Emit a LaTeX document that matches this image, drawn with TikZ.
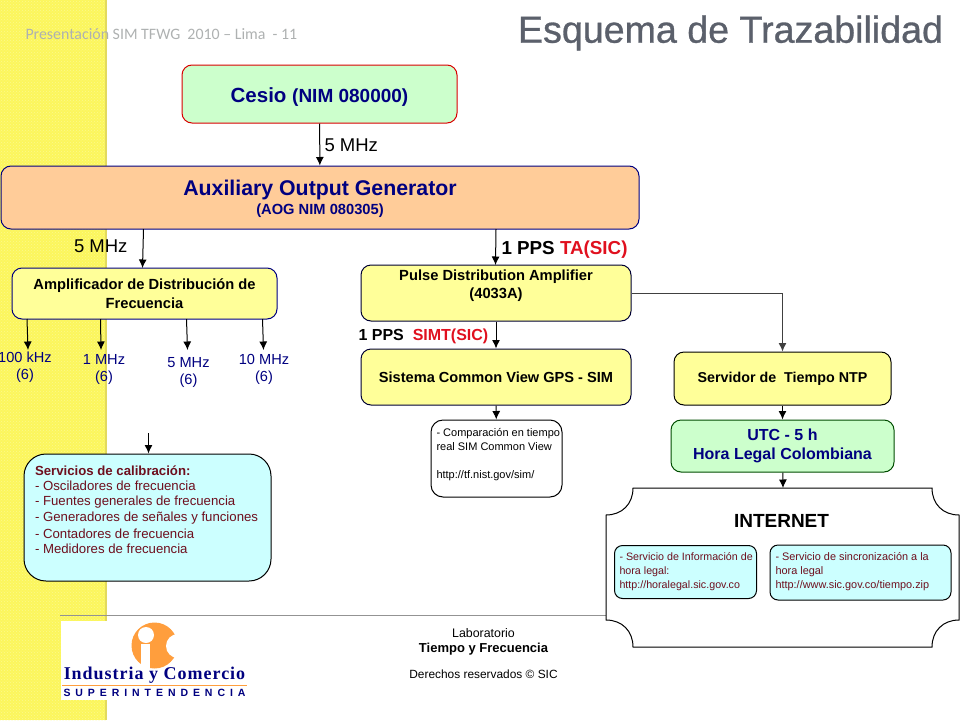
\documentclass[tikz,border=0pt]{standalone}
\usepackage{fontspec}
\setmainfont{Liberation Sans}
\newfontfamily\headfont{Carlito}
\newfontfamily\logofont{Liberation Serif}
\usetikzlibrary{arrows.meta,patterns}
\definecolor{stripyellow}{HTML}{FBF65C}
\definecolor{stripedge}{HTML}{E2DA5E}
\definecolor{boxyellow}{HTML}{FFFF99}
\definecolor{boxgreen}{HTML}{CCFFCC}
\definecolor{boxorange}{HTML}{FFCC99}
\definecolor{boxcyan}{HTML}{CCFFFF}
\definecolor{navytext}{HTML}{000080}
\definecolor{winetext}{HTML}{6E0F1E}
\definecolor{redtext}{HTML}{E0101E}
\definecolor{titlegrey}{HTML}{5B606B}
\definecolor{headgrey}{HTML}{AEB1B1}
\definecolor{logoorange}{HTML}{FF9E3D}
\newcommand{\fs}[1]{\fontsize{#1}{#1}\selectfont}
\tikzset{
    box/.style={draw,rounded corners=#1,align=center,inner sep=0pt},
    box/.default=10pt,
    lab/.style={inner sep=0pt,align=center},
}

\begin{document}
\begin{tikzpicture}[x=1pt,y=-1pt,>={Latex[length=8.5pt,width=8pt]},line width=1pt]
        \useasboundingbox (0,0) rectangle (960,720);
        % background
        \fill[stripyellow] (0,0) rectangle (106,720);
        \fill[pattern=crosshatch dots,pattern color=stripyellow!70!white] (0,0) rectangle (106,720);
        \fill[stripedge] (105,0) rectangle (107,720);
        \draw[gray!85,line width=1pt] (60,615) -- (610,615);
        \node[lab,text=headgrey,anchor=west] (head) at (25,34.5) {\headfont\fs{15.9}Presentación SIM TFWG\ \ 2010 – Lima\ \ - 11};
        \node[lab,text=titlegrey,anchor=east] (title) at (943.5,33) {\addfontfeature{FakeBold=0.8}\fs{37.6}Esquema de Trazabilidad};
        % boxes
        \node[box,draw=red!85!black,fill=boxgreen,minimum width=275pt,minimum height=58pt,text=navytext] (cesio) at (319.5,94) {\bfseries\fs{20.5}\rule{0pt}{21pt}Cesio \fs{19}(NIM 080000)};
        \node[box,draw=navytext,fill=boxorange,minimum width=638pt,minimum height=63pt,text=navytext] (aog) at (320,197.5) {\rule{0pt}{4pt}\\[-2pt]\bfseries\fs{21.3}Auxiliary Output Generator\\[3pt]\bfseries\fs{14.7}(AOG NIM 080305)};
        \node[box,draw=navytext,fill=boxyellow,minimum width=265pt,minimum height=51pt] (ampl) at (144.5,293.5) {\bfseries\fs{14.7}Amplificador de Distribución de\\[4pt]\bfseries\fs{14.7}Frecuencia};
        \node[box,draw=black!80!blue,fill=boxyellow,minimum width=270pt,minimum height=56pt] (pulse) at (496,293) {\bfseries\fs{14.7}Pulse Distribution Amplifier\\[3.5pt]\bfseries\fs{14.7}(4033A)\\[6pt]\ };
        \node[box,draw=black!80!blue,fill=boxyellow,minimum width=270pt,minimum height=56pt] (cv) at (496,377) {\bfseries\fs{14.6}Sistema Common View GPS - SIM};
        \node[box,fill=boxyellow,minimum width=217pt,minimum height=53pt] (ntp) at (782.5,378.5) {\bfseries\fs{14.3}Servidor de\ \ Tiempo NTP};
        \node[box,draw=black!70!green,fill=boxgreen,minimum width=223pt,minimum height=52pt,text=navytext] (utc) at (782.5,446) {\bfseries\fs{16}UTC - 5 h\\[7pt]\bfseries\fs{16}Hora Legal Colombiana};
        \node[box=12pt,minimum width=131pt,minimum height=77pt] (comp) at (496.5,458.5) {};
        \node[lab,anchor=north west,align=left] (comptxt) at (436,428) {\fs{11}- Comparación en tiempo\\[2pt]\fs{11}real SIM Common View\\[2pt]\fs{11}\ \\[2pt]\fs{11}http://tf.nist.gov/sim/};
        \node[box=22pt,fill=boxcyan,minimum width=247pt,minimum height=127pt] (serv) at (147.5,517.5) {};
        \node[lab,anchor=north west,align=left,text=winetext] (servtxt) at (34.5,465) {\bfseries\fs{13.2}Servicios de calibración:\\[3.1pt]\fs{13.2}- Osciladores de frecuencia\\[3.1pt]\fs{13.2}- Fuentes generales de frecuencia\\[3.1pt]\fs{13.2}- Generadores de señales y funciones\\[3.1pt]\fs{13.2}- Contadores de frecuencia\\[3.1pt]\fs{13.2}- Medidores de frecuencia};
        % internet
        \coordinate (inet) at (783,488);
        \draw[fill=white] (633,488) -- (932,488) .. controls (932,504) and (943,515) .. (959,515) -- (959,620) .. controls (943,620) and (932,631) .. (932,647) -- (633,647) .. controls (633,631) and (622,620) .. (606,620) -- (606,515) .. controls (622,515) and (633,504) .. (633,488) -- cycle;
        \node[lab] (inettxt) at (781.5,520.5) {\bfseries\fs{19}INTERNET};
        \node[box=8pt,fill=boxcyan,minimum width=142pt,minimum height=53pt] (info) at (685.5,572) {};
        \node[lab,anchor=north west,align=left,text=winetext] (infotxt) at (619,552) {\fs{10.7}- Servicio de Información de\\[2.3pt]\fs{10.7}hora legal:\\[2.3pt]\fs{10.7}http://horalegal.sic.gov.co};
        \node[box=8pt,fill=boxcyan,minimum width=181pt,minimum height=55pt] (sync) at (860.5,572.5) {};
        \node[lab,anchor=north west,align=left,text=winetext] (synctxt) at (775,552) {\fs{10.9}- Servicio de sincronización a la\\[2.1pt]\fs{10.9}hora legal\\[2.1pt]\fs{10.9}http://www.sic.gov.co/tiempo.zip};
        % labels
        \node[lab,anchor=west] (l5a) at (324,145) {\fs{18.5}5 MHz};
        \node[lab,anchor=west] (l5b) at (73.5,246) {\fs{18.5}5 MHz};
        \node[lab,anchor=west] (lta) at (501,249.5) {\bfseries\fs{18.8}1 PPS \textcolor{redtext}{TA(SIC)}};
        \node[lab,anchor=west] (lsimt) at (358,336) {\bfseries\fs{16}1 PPS\ \ \textcolor{redtext}{SIMT(SIC)}};
        \node[lab,text=navytext] (f100) at (25,367.5) {\fs{14.6}100 kHz\\[5pt]\fs{14.6}(6)};
        \node[lab,text=navytext] (f1) at (104,369) {\fs{14.6}1 MHz\\[5pt]\fs{14.6}(6)};
        \node[lab,text=navytext] (f5) at (188.5,372) {\fs{14.6}5 MHz\\[5pt]\fs{14.6}(6)};
        \node[lab,text=navytext] (f10) at (264,369) {\fs{14.6}10 MHz\\[5pt]\fs{14.6}(6)};
        % arrows
        \coordinate (a1) at (143.5,229);
        \coordinate (a2) at (142.5,268);
        \coordinate (a3) at (27,319);
        \coordinate (a4) at (28,350);
        \coordinate (a5) at (100.5,319);
        \coordinate (a6) at (101,350);
        \coordinate (a7) at (186.5,319);
        \coordinate (a8) at (187.5,350);
        \coordinate (a9) at (262.5,319);
        \coordinate (a10) at (263.5,350);
        \coordinate (a11) at (148.5,433);
        \coordinate (a12) at (496,229);
        \coordinate (a13) at (495.5,265);
        \draw[->] (cesio) -- (aog);
        \draw[->] (a1) -- (a2);
        \draw[->] (a3) -- (a4);
        \draw[->] (a5) -- (a6);
        \draw[->] (a7) -- (a8);
        \draw[->] (a9) -- (a10);
        \draw[->] (a11) -- (a11 |- serv.north);
        \draw[->] (a12) -- (a13);
        \draw[->] (pulse) -- (cv);
        \draw[->] (cv) -- (comp);
        \draw[->,black!75] (pulse.east) -| (ntp.north);
        \draw[->] (ntp) -- (utc);
        \draw[->] (utc) -- (inet);
        % logo
        \fill[white] (61,621) rectangle (247,700);
        \fill[logoorange] (154.5,645.5) circle (23pt);
        \fill[white] (178,646) circle (12pt);
        \fill[white] (146,635) circle (8pt);
        \fill[white] (141,643.5) rectangle (150,670);
        \node[lab,text=navytext] (logo1) at (154.5,675.5) {\logofont\bfseries\addfontfeature{LetterSpace=5.5}\fs{18}Industria y Comercio};
        \draw[logoorange,line width=1pt] (62,685.5) -- (247,685.5);
        \node[lab,text=navytext] (logo2) at (154.5,692.5) {\bfseries\addfontfeature{LetterSpace=47}\fs{10.5}SUPERINTENDENCIA};
        % footer
        \node[lab] (foot1) at (483.5,633.5) {\fs{12.4}Laboratorio};
        \node[lab] (foot2) at (483.5,649) {\bfseries\fs{13}Tiempo y Frecuencia};
        \node[lab] (foot3) at (483.5,674) {\fs{11.9}Derechos reservados © SIC};
    \end{tikzpicture}
\end{document}
